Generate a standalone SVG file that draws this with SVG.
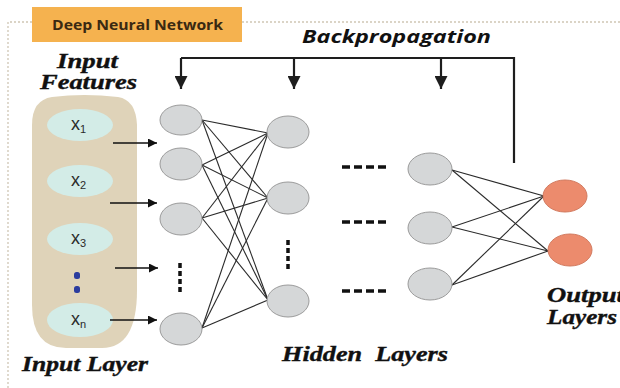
<svg xmlns="http://www.w3.org/2000/svg" width="620" height="388" viewBox="0 0 620 388">
<defs>
<style>
.frame{fill:none;stroke:#cfc6b4;stroke-width:1.3;stroke-dasharray:2 2}
.wire{stroke:#2a2a2a;stroke-width:1.1;fill:none}
.bp{stroke:#1e1e1e;stroke-width:2.2;fill:none}
.in{stroke:#111;stroke-width:1.6;fill:none}
.hn{fill:#d5d7d8;stroke:#9b9b9b;stroke-width:1}
.on{fill:#ec8b6d;stroke:#d27b60;stroke-width:1}
.xn{fill:#d3ece7}
.xl{font-family:"Liberation Sans",Arial,sans-serif;font-size:18px;fill:#2a2a2a}
.sub{font-size:11px}
.lab{font-family:"Liberation Serif","Times New Roman",serif;font-weight:bold;font-style:italic;font-size:20px;fill:#111;stroke:#111;stroke-width:0.35}
.vdots{stroke:#111;stroke-width:3.5;stroke-dasharray:5 3;fill:none}
.hdash{stroke:#111;stroke-width:3.5;stroke-dasharray:8 4;fill:none}
</style>
<marker id="ah" viewBox="0 0 10 10" refX="10" refY="5" markerWidth="10" markerHeight="9" markerUnits="userSpaceOnUse" orient="auto">
<path d="M0,0 L10,5 L0,10 Z" fill="#111"/>
</marker>
<marker id="dh" viewBox="0 0 10 10" refX="10" refY="5" markerWidth="15" markerHeight="13" markerUnits="userSpaceOnUse" orient="auto">
<path d="M0,0 L10,5 L0,10 Z" fill="#1e1e1e"/>
</marker>
</defs>

<rect width="620" height="388" fill="#ffffff"/>

<g id="frame">
<path class="frame" d="M8,388 L8,22 L620,22"/>
</g>

<g id="header">
<rect x="32" y="7" width="210" height="35" fill="#f5b24f"/>
<text x="52" y="30" font-family="'Open Sans','Liberation Sans',sans-serif" font-weight="bold" font-size="14" fill="#3a2912" textLength="171" lengthAdjust="spacingAndGlyphs">Deep Neural Network</text>
</g>

<g id="backprop-label">
<text x="302" y="43" font-family="'Open Sans','Liberation Sans',sans-serif" font-weight="bold" font-style="italic" font-size="18" fill="#111" textLength="189" lengthAdjust="spacingAndGlyphs">Backpropagation</text>
</g>

<g id="input-features-label">
<text class="lab" x="57" y="68" textLength="61" lengthAdjust="spacingAndGlyphs">Input</text>
<text class="lab" x="40" y="89" textLength="97" lengthAdjust="spacingAndGlyphs">Features</text>
</g>

<g id="input-layer">
<path d="M52,97 Q84,93 118,97 Q136,100 137,125 L137,290 Q137,348 102,348 L66,348 Q32,348 32,305 L32,125 Q32,100 52,97 Z" fill="#dfd3b9"/>
<g id="x1"><ellipse class="xn" cx="80" cy="125" rx="33" ry="16"/><text class="xl" x="71" y="130">x<tspan class="sub" dy="3">1</tspan></text></g>
<g id="x2"><ellipse class="xn" cx="80" cy="181" rx="33" ry="16"/><text class="xl" x="71" y="186">x<tspan class="sub" dy="3">2</tspan></text></g>
<g id="x3"><ellipse class="xn" cx="80" cy="239" rx="33" ry="16"/><text class="xl" x="71" y="244">x<tspan class="sub" dy="3">3</tspan></text></g>
<rect x="74" y="272" width="6" height="7" rx="2.5" fill="#2b3c9e"/>
<rect x="74" y="286" width="6" height="7" rx="2.5" fill="#2b3c9e"/>
<g id="xn"><ellipse class="xn" cx="80" cy="320" rx="33" ry="17"/><text class="xl" x="71" y="325">x<tspan class="sub" dy="3">n</tspan></text></g>
</g>

<g id="input-layer-label">
<text class="lab" x="22" y="371" font-size="21" textLength="126" lengthAdjust="spacingAndGlyphs">Input Layer</text>
</g>

<g id="connectors">
<line class="in" x1="113" y1="143" x2="157" y2="143" marker-end="url(#ah)"/>
<line class="in" x1="110" y1="203" x2="157" y2="203" marker-end="url(#ah)"/>
<line class="in" x1="115" y1="268" x2="158" y2="268" marker-end="url(#ah)"/>
<line class="in" x1="110" y1="320" x2="157" y2="320" marker-end="url(#ah)"/>

<path class="bp" d="M181,58 L514,58 L514,163"/>
<line class="bp" x1="181" y1="58" x2="181" y2="89" marker-end="url(#dh)"/>
<line class="bp" x1="294" y1="58" x2="294" y2="89" marker-end="url(#dh)"/>
<line class="bp" x1="441" y1="58" x2="441" y2="89" marker-end="url(#dh)"/>

<g class="wire">
<line x1="202" y1="120" x2="268" y2="133"/>
<line x1="202" y1="120" x2="268" y2="198"/>
<line x1="202" y1="120" x2="268" y2="300"/>
<line x1="202" y1="165" x2="268" y2="133"/>
<line x1="202" y1="165" x2="268" y2="198"/>
<line x1="202" y1="165" x2="268" y2="300"/>
<line x1="202" y1="218" x2="268" y2="133"/>
<line x1="202" y1="218" x2="268" y2="198"/>
<line x1="202" y1="218" x2="268" y2="300"/>
<line x1="202" y1="328" x2="268" y2="133"/>
<line x1="202" y1="328" x2="268" y2="198"/>
<line x1="202" y1="328" x2="268" y2="300"/>

<line x1="452" y1="170" x2="544" y2="196"/>
<line x1="452" y1="170" x2="548" y2="251"/>
<line x1="452" y1="227" x2="544" y2="196"/>
<line x1="452" y1="227" x2="548" y2="251"/>
<line x1="452" y1="285" x2="544" y2="196"/>
<line x1="452" y1="285" x2="548" y2="251"/>
</g>
</g>

<g id="hidden-layer-1">
<ellipse class="hn" cx="181" cy="120" rx="21" ry="15"/>
<ellipse class="hn" cx="181" cy="164" rx="21" ry="16"/>
<ellipse class="hn" cx="181" cy="219" rx="21" ry="16"/>
<line class="vdots" x1="180" y1="263" x2="180" y2="295"/>
<ellipse class="hn" cx="181" cy="329" rx="21" ry="16"/>
</g>

<g id="hidden-layer-2">
<ellipse class="hn" cx="288" cy="132" rx="21" ry="16"/>
<ellipse class="hn" cx="288" cy="198" rx="21" ry="16"/>
<line class="vdots" x1="288" y1="240" x2="288" y2="272"/>
<ellipse class="hn" cx="288" cy="301" rx="21" ry="16"/>
</g>

<g id="ellipsis">
<line class="hdash" x1="342" y1="167" x2="386" y2="167"/>
<line class="hdash" x1="342" y1="222" x2="386" y2="222"/>
<line class="hdash" x1="342" y1="291" x2="386" y2="291"/>
</g>

<g id="hidden-layer-n">
<ellipse class="hn" cx="430" cy="169" rx="22" ry="16"/>
<ellipse class="hn" cx="430" cy="228" rx="22" ry="16"/>
<ellipse class="hn" cx="430" cy="284" rx="22" ry="16"/>
</g>

<g id="output-layer">
<ellipse class="on" cx="565" cy="196" rx="22" ry="16"/>
<ellipse class="on" cx="570" cy="250" rx="22" ry="16"/>
</g>

<g id="hidden-layers-label">
<text class="lab" x="282" y="361" xml:space="preserve" textLength="166" lengthAdjust="spacingAndGlyphs">Hidden  Layers</text>
</g>

<g id="output-layers-label">
<text class="lab" x="547" y="302" textLength="77" lengthAdjust="spacingAndGlyphs">Output</text>
<text class="lab" x="547" y="324" textLength="70" lengthAdjust="spacingAndGlyphs">Layers</text>
</g>
</svg>
